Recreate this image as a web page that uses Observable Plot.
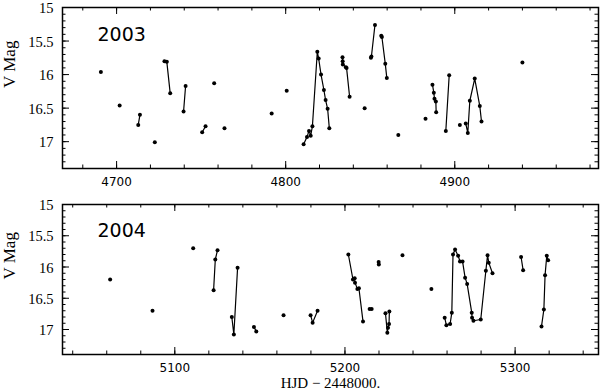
<!DOCTYPE html>
<html><head><meta charset="utf-8">
<script src="https://cdn.jsdelivr.net/npm/d3@7"></script>
<script src="https://cdn.jsdelivr.net/npm/@observablehq/plot@0.6"></script>
<style>
body{margin:0;background:#fff;}
#chart svg{display:block;}
</style>
</head><body><div id="chart"></div>
<script>
// ---- 2003 season ----
const hjd2003 = [4690.7, 4701.8, 4712.8, 4713.8, 4722.6, 4728.3, 4729.7, 4731.7, 4739.6, 4740.8,
  4750.6, 4752.6, 4757.7, 4763.8, 4791.7, 4800.6,
  4810.6, 4812.6, 4813.8, 4814.8, 4815.8, 4818.7, 4819.5, 4820.9, 4822.6, 4823.6, 4824.8, 4825.8,
  4833.6, 4833.7, 4833.8, 4835.6, 4836.0, 4837.8, 4846.7,
  4850.4, 4850.7, 4852.8, 4856.5, 4856.9, 4858.9, 4859.8, 4866.6, 4882.7,
  4886.8, 4887.6, 4888.0, 4888.8, 4889.0, 4894.7, 4896.7, 4903.0,
  4906.5, 4907.7, 4908.9, 4911.8, 4914.8, 4915.8, 4940.0];
const mag2003 = [15.96, 16.46, 16.75, 16.60, 17.01, 15.80, 15.81, 16.28, 16.55, 16.17,
  16.86, 16.77, 16.13, 16.80, 16.58, 16.24,
  17.04, 16.93, 16.84, 16.91, 16.77, 15.66, 15.76, 16.00, 16.23, 16.38, 16.51, 16.80,
  15.74, 15.80, 15.85, 15.89, 15.90, 16.33, 16.50,
  15.75, 15.73, 15.26, 15.42, 15.44, 15.84, 16.05, 16.90, 16.66,
  16.15, 16.27, 16.36, 16.40, 16.56, 16.84, 16.01, 16.75,
  16.73, 16.87, 16.39, 16.06, 16.47, 16.70, 15.82];
const run2003 = [1, 2, 3, 3, 4, 5, 5, 5, 6, 6,
  7, 7, 8, 9, 10, 11,
  12, 12, 12, 12, 12, 12, 12, 12, 12, 12, 12, 12,
  13, 13, 13, 13, 13, 13, 14,
  15, 15, 15, 16, 16, 16, 16, 17, 18,
  19, 19, 19, 19, 19, 20, 20, 21,
  22, 22, 22, 22, 22, 22, 23];

// ---- 2004 season ----
const hjd2004 = [5062.0, 5086.9, 5110.8, 5122.8, 5123.8, 5125.1, 5133.5, 5134.7, 5136.9,
  5146.5, 5147.9, 5163.9, 5179.8, 5181.0, 5183.9,
  5202.0, 5204.7, 5205.7, 5205.9, 5207.3, 5208.2, 5210.6, 5214.5, 5215.7, 5219.8, 5219.9,
  5223.8, 5224.9, 5225.3, 5225.9, 5226.1, 5233.8, 5250.8,
  5258.6, 5259.6, 5261.8, 5262.8, 5263.5, 5264.7, 5266.5, 5267.6, 5269.1, 5270.6, 5271.8,
  5274.5, 5274.7, 5275.5, 5279.8, 5282.8, 5283.8, 5284.5, 5286.7,
  5303.5, 5304.7, 5315.5, 5316.9, 5317.6, 5318.6, 5319.4];
const mag2004 = [16.20, 16.70, 15.70, 16.37, 15.88, 15.73, 16.80, 17.08, 16.01,
  16.96, 17.03, 16.77, 16.77, 16.89, 16.70,
  15.80, 16.20, 16.18, 16.25, 16.35, 16.34, 16.87, 16.67, 16.67, 15.92, 15.96,
  16.74, 17.05, 16.97, 16.91, 16.71, 15.81, 16.35,
  16.81, 16.93, 16.91, 16.73, 15.80, 15.72, 15.82, 15.91, 15.91, 16.17, 16.27,
  16.73, 16.81, 16.86, 16.84, 16.06, 15.81, 15.93, 16.10,
  15.84, 16.05, 16.95, 16.68, 16.13, 15.82, 15.89];
const run2004 = [1, 2, 3, 4, 4, 4, 5, 5, 5,
  6, 6, 7, 8, 8, 8,
  9, 9, 9, 9, 9, 9, 9, 10, 10, 11, 11,
  12, 12, 12, 12, 12, 13, 14,
  15, 15, 15, 15, 15, 15, 15, 15, 15, 15, 15,
  15, 15, 15, 15, 15, 15, 15, 15,
  16, 16, 17, 17, 17, 17, 17];

const magTicks = [15, 15.5, 16, 16.5, 17];
const xTicks2003 = [4700, 4800, 4900];
const xTicks2004 = [5100, 5200, 5300];
const xLabel = "HJD − 2448000.";
const yLabel = "V Mag";

const SERIF = "'Liberation Serif', 'DejaVu Serif', serif";
const SANS = "'DejaVu Sans', sans-serif";

function panel({hjd, mag, run, year, xDomain, xTicks, height, marginTop, marginBottom, yearDy, withXLabel}) {
  const data = hjd.map((h, i) => ({hjd: h, mag: mag[i], run: run[i]}));
  const innerH = height - marginTop - marginBottom;
  const innerW = 600 - 62 - 2;
  const minorX = d3.range(Math.ceil(xDomain[0] / 20) * 20, xDomain[1], 20);
  const majorY = d3.range(15, 17.4, 0.5);
  const minorY = d3.range(15.1, 17.4, 0.1);
  const tickStyle = {stroke: "black", strokeWidth: 1};
  const marks = [
    Plot.tickX(minorX, {x: d => d, insetTop: innerH - 3.5, ...tickStyle}),
    Plot.tickX(minorX, {x: d => d, insetBottom: innerH - 3.5, ...tickStyle}),
    Plot.tickX(xTicks, {x: d => d, insetTop: innerH - 7, ...tickStyle}),
    Plot.tickX(xTicks, {x: d => d, insetBottom: innerH - 7, ...tickStyle}),
    Plot.tickY(minorY, {y: d => d, insetRight: innerW - 3.5, ...tickStyle}),
    Plot.tickY(minorY, {y: d => d, insetLeft: innerW - 3.5, ...tickStyle}),
    Plot.tickY(majorY, {y: d => d, insetRight: innerW - 7, ...tickStyle}),
    Plot.tickY(majorY, {y: d => d, insetLeft: innerW - 7, ...tickStyle}),
    Plot.frame({stroke: "black", strokeWidth: 1.5}),
    Plot.axisX({ticks: xTicks, tickSize: 0, tickPadding: 9, tickFormat: d => String(d), label: null,
      fontSize: 12, fontFamily: SANS}),
    Plot.axisY({ticks: magTicks, tickSize: 0, tickPadding: 9, tickFormat: d => String(d), label: null,
      fontSize: 14.5, fontFamily: SERIF, dy: 1}),
    Plot.text([yLabel], {frameAnchor: "left", text: d => d, rotate: -90, dx: -53,
      fontSize: 17, fontFamily: SERIF, lineAnchor: "middle"}),
    Plot.line(data, {x: "hjd", y: "mag", z: "run", stroke: "black", strokeWidth: 1.2}),
    Plot.dot(data, {x: "hjd", y: "mag", r: 2, fill: "black", stroke: null}),
    Plot.text([year], {frameAnchor: "top-left", text: d => d, dx: 35, dy: yearDy,
      textAnchor: "start", lineAnchor: "top", fontSize: 19, letterSpacing: 1, fontFamily: SANS})
  ];
  if (withXLabel) {
    marks.push(Plot.text([xLabel], {frameAnchor: "bottom", text: d => d, dy: 29,
      lineAnchor: "middle", fontSize: 15, letterSpacing: 2, fontFamily: SERIF}));
  }
  return Plot.plot({
    width: 600, height, marginTop, marginBottom, marginLeft: 62, marginRight: 2,
    style: {fontFamily: SANS, fontSize: "13px", color: "black", background: "white", overflow: "visible"},
    x: {domain: xDomain},
    y: {domain: [15, 17.4], reverse: true},
    marks
  });
}

const chart = document.getElementById("chart");
chart.appendChild(panel({hjd: hjd2003, mag: mag2003, run: run2003, year: "2003",
  xDomain: [4668, 4985], xTicks: xTicks2003, height: 191, marginTop: 7, marginBottom: 23, yearDy: 20}));
chart.appendChild(panel({hjd: hjd2004, mag: mag2004, run: run2004, year: "2004",
  xDomain: [5034, 5349], xTicks: xTicks2004, height: 200, marginTop: 13, marginBottom: 37, yearDy: 19, withXLabel: true}));
</script>
</body></html>
